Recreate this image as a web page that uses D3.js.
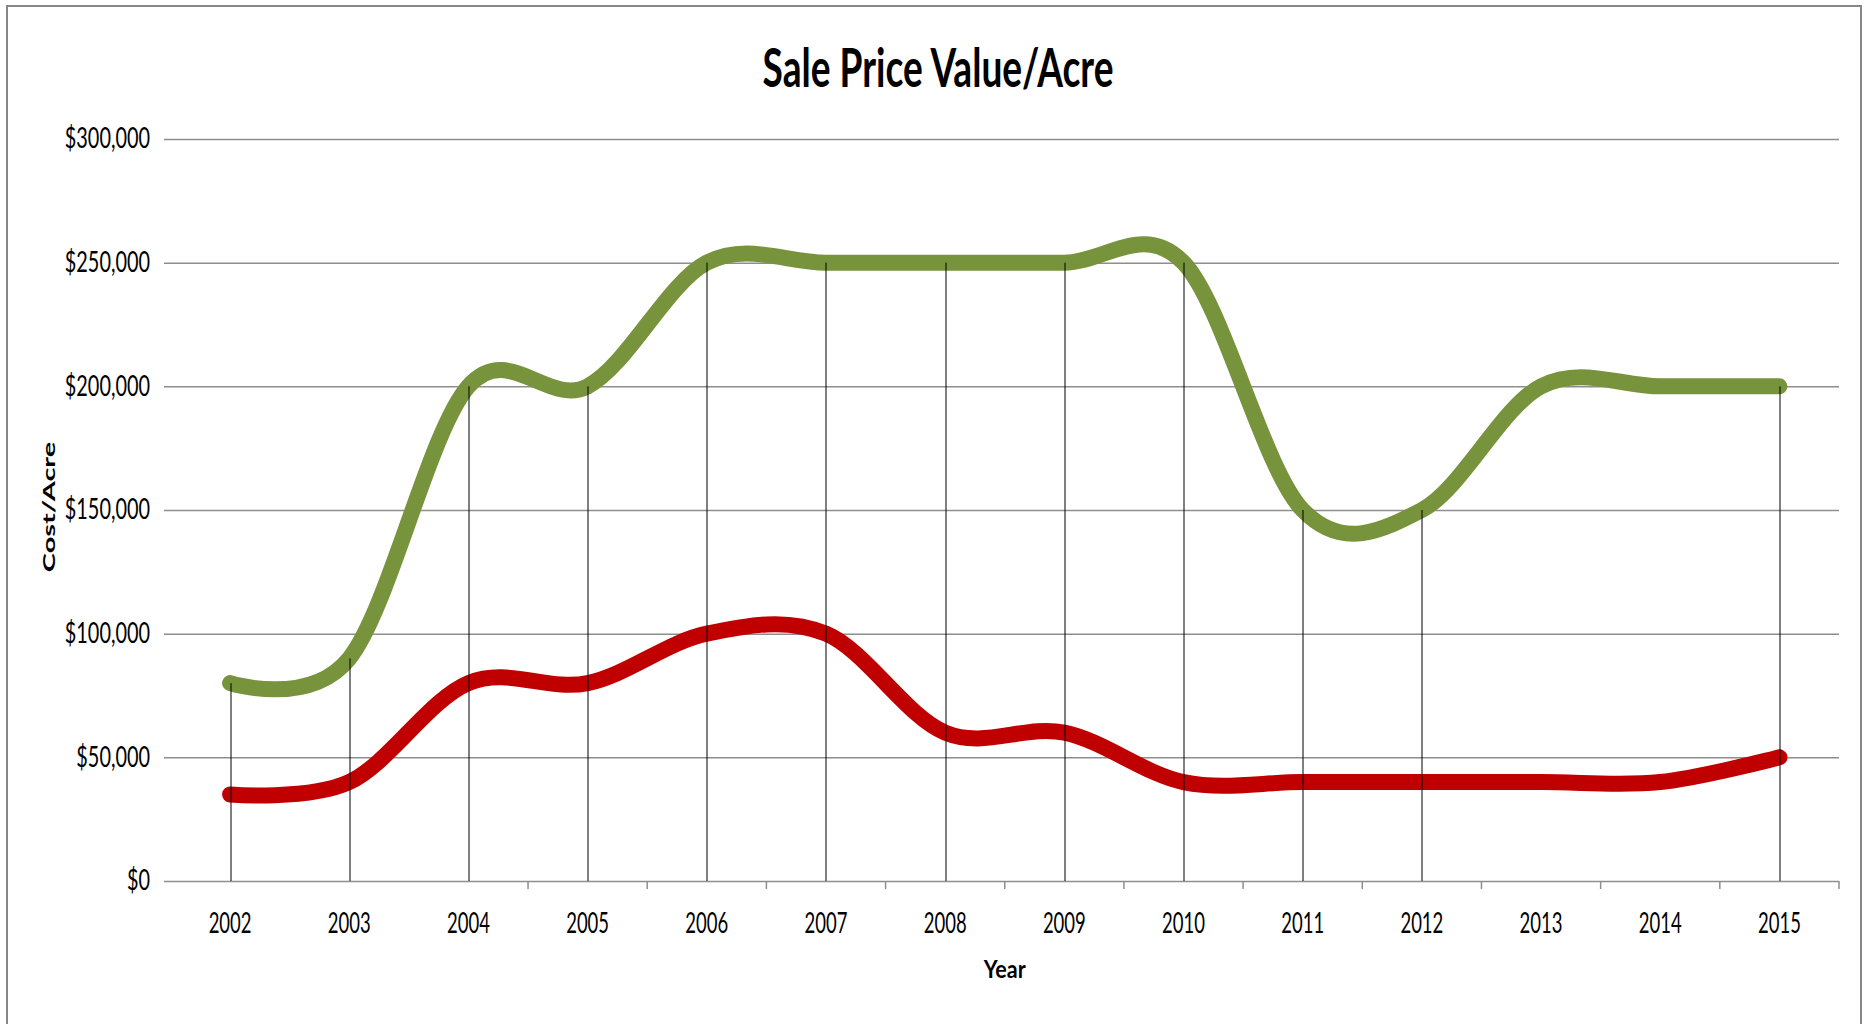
<!DOCTYPE html>
<html>
<head>
<meta charset="utf-8">
<script src="https://cdnjs.cloudflare.com/ajax/libs/d3/7.8.5/d3.min.js"></script>
<style>
  body { margin: 0; background: #fff; }
  text { font-family: Lato, "Open Sans", sans-serif; fill: #000; }
</style>
</head>
<body>
<div id="chart"></div>
<script>
// data
const years = ["2002", "2003", "2004", "2005", "2006", "2007", "2008",
               "2009", "2010", "2011", "2012", "2013", "2014", "2015"];
const greenValues = [80000, 90000, 200000, 200000, 250000, 250000, 250000,
                     250000, 250000, 150000, 150000, 200000, 200000, 200000];
const redValues = [35000, 40000, 80000, 80000, 100000, 100000, 60000,
                   60000, 40000, 40000, 40000, 40000, 40000, 50000];
const yTicks = [0, 50000, 100000, 150000, 200000, 250000, 300000];
// drop lines that show in the picture
const dropYears = ["2002", "2003", "2004", "2005", "2006", "2007", "2008",
                   "2009", "2010", "2011", "2012", "2015"];

// the source chart is squeezed sideways, so text is squeezed too
const SX = 0.66;

const W = 1865, H = 1024;
const margin = {top: 139, right: 26, bottom: 143, left: 170.5};
const width = W - margin.left - margin.right,
      height = H - margin.top - margin.bottom;

const svg = d3.select("#chart")
  .append("svg")
  .attr("width", W)
  .attr("height", H);

svg.append("rect")
  .attr("width", W).attr("height", H)
  .attr("fill", "#fff");

// outer chart border
svg.append("rect")
  .attr("x", 7).attr("y", 6)
  .attr("width", 1854).attr("height", 1040)
  .attr("fill", "none")
  .attr("stroke", "#878787")
  .attr("stroke-width", 2);

const g = svg.append("g")
  .attr("transform", `translate(${margin.left},${margin.top})`);

const x = d3.scaleBand()
  .domain(years)
  .range([0, width])
  .padding(0);

const y = d3.scaleLinear()
  .domain([0, 300000])
  .range([height, 0]);

// Y axis with gridlines, drawn from the right edge
const gridLen = width + 6.5;
const yAxis = g.append("g")
  .attr("transform", `translate(${width},0)`)
  .call(d3.axisLeft(y)
    .tickValues(yTicks)
    .tickSize(gridLen)
    .tickPadding(14)
    .tickFormat(d3.format("$,")));
yAxis.select(".domain").remove();
yAxis.selectAll(".tick line")
  .attr("stroke", "#8e8e8e")
  .attr("stroke-width", 1.5);
yAxis.selectAll(".tick text")
  .attr("x", 0)
  .attr("transform", `translate(${-(gridLen + 14)},0) scale(0.71,1)`)
  .style("font-size", "28px");

// category tick marks between years
const boundaries = d3.range(3, years.length + 1);
g.selectAll(".xtick")
  .data(boundaries)
  .join("line")
  .attr("class", "xtick")
  .attr("x1", d => x.step() * d)
  .attr("x2", d => x.step() * d)
  .attr("y1", height)
  .attr("y2", height + 8)
  .attr("stroke", "#8e8e8e")
  .attr("stroke-width", 1.5);

// X axis labels
const xAxis = g.append("g")
  .attr("transform", `translate(0,${height})`)
  .call(d3.axisBottom(x).tickSize(0).tickPadding(0));
xAxis.select(".domain").remove();
xAxis.selectAll(".tick text")
  .attr("y", 0).attr("dy", 0)
  .attr("transform", `translate(0,52) scale(${SX},1)`)
  .style("font-size", "28px");

// the two smoothed lines
const line = d3.line()
  .x((d, i) => x(years[i]) + x.bandwidth() / 2)
  .y(d => y(d))
  .curve(d3.curveCatmullRom.alpha(0));

g.append("path")
  .datum(greenValues)
  .attr("fill", "none")
  .attr("stroke", "#77933C")
  .attr("stroke-width", 16)
  .attr("stroke-linecap", "round")
  .attr("stroke-linejoin", "round")
  .attr("d", line);

g.append("path")
  .datum(redValues)
  .attr("fill", "none")
  .attr("stroke", "#C00000")
  .attr("stroke-width", 16)
  .attr("stroke-linecap", "round")
  .attr("stroke-linejoin", "round")
  .attr("d", line);

// drop lines
g.selectAll(".drop")
  .data(dropYears)
  .join("line")
  .attr("class", "drop")
  .attr("x1", d => Math.round(x(d) + x.bandwidth() / 2) + 0.5)
  .attr("x2", d => Math.round(x(d) + x.bandwidth() / 2) + 0.5)
  .attr("y1", d => {
    const i = years.indexOf(d);
    return y(Math.max(greenValues[i], redValues[i]));
  })
  .attr("y2", height)
  .attr("stroke", "#000")
  .attr("stroke-width", 1);

// title
svg.append("text")
  .attr("transform", `translate(938,87) scale(0.7,1)`)
  .attr("text-anchor", "middle")
  .style("font-size", "53px")
  .style("font-weight", "bold")
  .text("Sale Price Value/Acre");

// axis titles
svg.append("text")
  .attr("transform", `translate(${margin.left + width / 2},978) scale(0.86,1)`)
  .attr("text-anchor", "middle")
  .style("font-size", "25px")
  .style("font-weight", "bold")
  .text("Year");

svg.append("text")
  .attr("transform", `translate(55,507) scale(0.6,1) rotate(-90)`)
  .attr("text-anchor", "middle")
  .style("font-size", "29px")
  .style("font-weight", "bold")
  .text("Cost/Acre");
</script>
</body>
</html>
